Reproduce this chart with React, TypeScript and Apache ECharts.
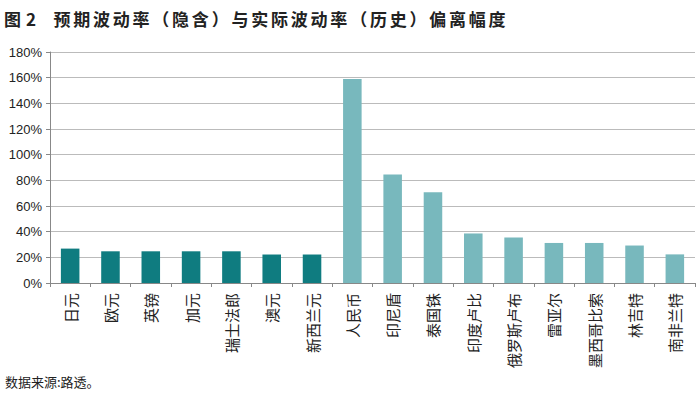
import React, { useEffect, useRef } from "react";
import * as echarts from "echarts";

const categories = ["日元", "欧元", "英镑", "加元", "瑞士法郎", "澳元", "新西兰元", "人民币", "印尼盾", "泰国铢", "印度卢比", "俄罗斯卢布", "雷亚尔", "墨西哥比索", "林吉特", "南非兰特"];
const values = [26.8, 24.7, 24.7, 24.7, 24.7, 22.2, 22.2, 159, 84.5, 70.8, 38.6, 35.5, 31.2, 31.2, 29.2, 22.3];
const groupOf = [0, 0, 0, 0, 0, 0, 0, 1, 1, 1, 1, 1, 1, 1, 1, 1];
const groupColors = ["#0f7c80", "#78b8bd"];
const yTicks = [0, 20, 40, 60, 80, 100, 120, 140, 160, 180];
const titleFig = "图";
const titleNum = "2";
const titleText = "预期波动率（隐含）与实际波动率（历史）偏离幅度";
const source = "数据来源:路透。";

const CJK = "Noto Sans CJK SC, sans-serif";

export default function App() {
  const ref = useRef<HTMLDivElement>(null);
  useEffect(() => {
    const chart = echarts.init(ref.current!, null, { renderer: "svg" });
    const titleStyle = { fontSize: 17, fontWeight: "bold", fill: "#222", fontFamily: CJK };
    const chars = Array.from(titleText);
    const pitch = (507 - 52) / chars.length;
    chart.setOption({
      animation: false,
      backgroundColor: "#fff",
      textStyle: { fontFamily: "Liberation Sans, Noto Sans CJK SC, sans-serif" },
      graphic: [
        { type: "text", x: 4, y: 18, style: { ...titleStyle, text: titleFig, verticalAlign: "middle" } },
        { type: "text", x: 26, y: 18, style: { ...titleStyle, text: titleNum, verticalAlign: "middle" } },
        ...chars.map((c, i) => ({
          type: "text",
          x: 52 + i * pitch + pitch / 2,
          y: 18,
          style: { ...titleStyle, text: c, align: "center", verticalAlign: "middle" },
        })),
        { type: "text", left: 5, top: 375, style: { text: source, fontSize: 13, fill: "#222", fontFamily: CJK } },
      ],
      grid: { left: 50, right: 5, top: 52, bottom: 114 },
      xAxis: {
        type: "category",
        data: categories,
        axisLine: { lineStyle: { color: "#888" } },
        axisTick: { show: true, length: 4, lineStyle: { color: "#888" } },
        axisLabel: { rotate: 90, color: "#222", fontSize: 15, margin: 10, interval: 0, fontFamily: CJK },
      },
      yAxis: {
        type: "value",
        min: 0,
        max: 180,
        interval: 20,
        axisLine: { show: true, lineStyle: { color: "#888" } },
        axisTick: { show: true, length: 4, lineStyle: { color: "#888" } },
        axisLabel: { color: "#222", fontSize: 13, margin: 8, formatter: (v: number) => (yTicks.includes(v) ? v + "%" : ""), fontFamily: "Liberation Sans, Arial, sans-serif" },
        splitLine: { lineStyle: { color: "#bbb" } },
      },
      series: [
        {
          type: "bar",
          barWidth: "46%",
          data: values.map((v, i) => ({ value: v, itemStyle: { color: groupColors[groupOf[i]] } })),
        },
      ],
    });
    return () => chart.dispose();
  }, []);
  return <div ref={ref} style={{ width: 700, height: 397, position: "absolute", left: 0, top: 0 }} />;
}
